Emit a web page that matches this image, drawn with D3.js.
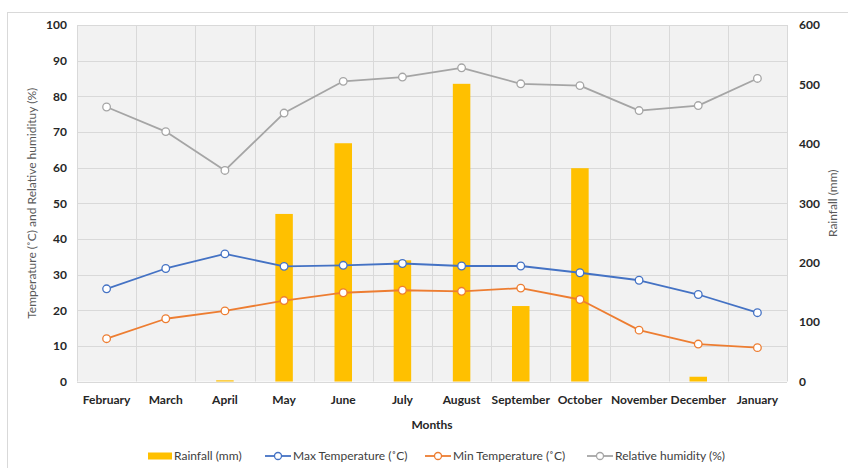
<!DOCTYPE html>
<html>
<head>
<meta charset="utf-8">
<script src="https://cdn.jsdelivr.net/npm/d3@7"></script>
<style>
  html, body { margin: 0; padding: 0; background: #fff; }
  svg { display: block; font-family: Lato, "Open Sans", sans-serif; }
</style>
</head>
<body>
<svg id="chart" width="848" height="468"></svg>
<script>
const months = ["February","March","April","May","June","July","August","September","October","November","December","January"];
const rainfall = [0, 0, 2, 282, 401, 204, 501, 127, 359, 0, 8, 0];
const maxTemp = [26.0, 31.7, 35.8, 32.3, 32.6, 33.1, 32.4, 32.4, 30.5, 28.4, 24.4, 19.3];
const minTemp = [12.0, 17.6, 19.8, 22.7, 24.9, 25.6, 25.3, 26.2, 23.0, 14.4, 10.5, 9.5];
const humidity = [77.0, 70.1, 59.2, 75.3, 84.2, 85.4, 88.0, 83.5, 83.0, 76.0, 77.4, 85.0];
const leftTicks = [0,10,20,30,40,50,60,70,80,90,100];
const rightTicks = [0,100,200,300,400,500,600];

const svg = d3.select("#chart");
const m = {left: 77, right: 787, top: 25, bottom: 381.5};

// outer frame
svg.append("rect").attr("x", 7.5).attr("y", 12.5).attr("width", 845).attr("height", 460)
  .attr("fill", "#fff").attr("stroke", "#d9d9d9");

const x = d3.scaleBand().domain(months).range([m.left, m.right]).paddingInner(0).paddingOuter(0);
const yL = d3.scaleLinear().domain([0, 100]).range([m.bottom, m.top]);
const yR = d3.scaleLinear().domain([0, 600]).range([m.bottom, m.top]);

// plot background
svg.append("rect").attr("x", m.left).attr("y", m.top)
  .attr("width", m.right - m.left).attr("height", m.bottom - m.top).attr("fill", "#f2f2f2");

// gridlines
svg.append("g").selectAll("line").data(leftTicks).join("line")
  .attr("x1", m.left).attr("x2", m.right)
  .attr("y1", d => Math.round(yL(d)) + 0.5).attr("y2", d => Math.round(yL(d)) + 0.5)
  .attr("stroke", "#d9d9d9").attr("stroke-width", 1);
const vlines = months.map(d => x(d)).concat([m.right]);
svg.append("g").selectAll("line").data(vlines).join("line")
  .attr("x1", d => Math.round(d) + 0.5).attr("x2", d => Math.round(d) + 0.5)
  .attr("y1", m.top).attr("y2", m.bottom)
  .attr("stroke", "#d9d9d9").attr("stroke-width", 1);

// bars
const bw = 17.5;
svg.append("g").selectAll("rect").data(months).join("rect")
  .attr("x", (d) => x(d) + x.bandwidth()/2 - bw/2)
  .attr("y", (d, i) => yR(rainfall[i]))
  .attr("width", bw)
  .attr("height", (d, i) => m.bottom - yR(rainfall[i]))
  .attr("fill", "#ffc000");

// lines
const cx = d => x(d) + x.bandwidth()/2;
function drawSeries(vals, color) {
  const pts = months.map((d, i) => [cx(d), yL(vals[i])]);
  svg.append("path").attr("d", d3.line()(pts)).attr("fill", "none")
    .attr("stroke", color).attr("stroke-width", 1.8).attr("stroke-linejoin", "round");
  svg.append("g").selectAll("circle").data(pts).join("circle")
    .attr("cx", p => p[0]).attr("cy", p => p[1]).attr("r", 3.8)
    .attr("fill", "#fff").attr("stroke", color).attr("stroke-width", 1.3);
}
drawSeries(humidity, "#a5a5a5");
drawSeries(maxTemp, "#4472c4");
drawSeries(minTemp, "#ed7d31");

// axes
const axL = d3.axisLeft(yL).tickValues(leftTicks).tickSize(0).tickPadding(10);
const gL = svg.append("g").attr("transform", `translate(${m.left},0)`).call(axL);
const axR = d3.axisRight(yR).tickValues(rightTicks).tickSize(0).tickPadding(12);
const gR = svg.append("g").attr("transform", `translate(${m.right},0)`).call(axR);
const axB = d3.axisBottom(x).tickSize(0).tickPadding(14);
const gB = svg.append("g").attr("transform", `translate(0,${m.bottom})`).call(axB);
[gL, gR, gB].forEach(g => {
  g.select(".domain").remove();
  g.selectAll("text").attr("font-family", "Lato, sans-serif").attr("font-size", 12)
    .attr("font-weight", "bold").attr("fill", "#262626");
});

// axis titles
svg.append("text").attr("transform", `translate(36,${(m.top + m.bottom)/2}) rotate(-90)`)
  .attr("text-anchor", "middle").attr("font-size", 12).attr("fill", "#595959")
  .text("Temperature (˚C) and Relative humidituy (%)");
svg.append("text").attr("transform", `translate(837,${(m.top + m.bottom)/2}) rotate(-90)`)
  .attr("text-anchor", "middle").attr("font-size", 12).attr("fill", "#595959")
  .text("Rainfall (mm)");
svg.append("text").attr("x", (m.left + m.right)/2).attr("y", 429)
  .attr("text-anchor", "middle").attr("font-size", 12).attr("font-weight", "bold").attr("fill", "#262626")
  .text("Months");

// legend
const ly = 456;
const lg = svg.append("g").attr("font-size", 12).attr("fill", "#404040");
lg.append("rect").attr("x", 148).attr("y", ly - 3.5).attr("width", 24).attr("height", 7).attr("fill", "#ffc000");
lg.append("text").attr("x", 174).attr("y", ly).attr("dy", "0.35em").text("Rainfall (mm)");
const legItems = [
  {x: 265, color: "#4472c4", label: "Max Temperature (˚C)"},
  {x: 425, color: "#ed7d31", label: "Min Temperature (˚C)"},
  {x: 587, color: "#a5a5a5", label: "Relative humidity (%)"}
];
legItems.forEach(it => {
  lg.append("line").attr("x1", it.x).attr("x2", it.x + 26).attr("y1", ly).attr("y2", ly)
    .attr("stroke", it.color).attr("stroke-width", 1.8);
  lg.append("circle").attr("cx", it.x + 13).attr("cy", ly).attr("r", 3.5)
    .attr("fill", "#fff").attr("stroke", it.color).attr("stroke-width", 1.3);
  lg.append("text").attr("x", it.x + 28).attr("y", ly).attr("dy", "0.35em").text(it.label);
});
</script>
</body>
</html>
